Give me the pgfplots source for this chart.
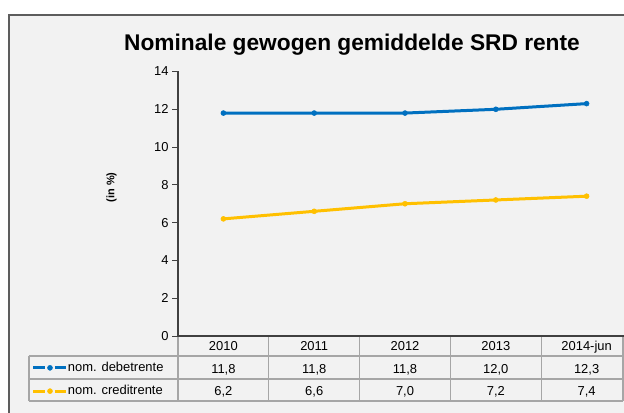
\documentclass[border=0pt]{standalone}
\usepackage{pgfplots}
\usepackage{pgfplotstable}
\pgfplotsset{compat=1.18}
\usepackage{fontspec}
\setmainfont{Liberation Sans}
\definecolor{serblue}{HTML}{0070C0}
\definecolor{seryel}{HTML}{FFC000}
\definecolor{bggray}{HTML}{F2F2F2}
\definecolor{axgray}{HTML}{404040}
\definecolor{tabgray}{HTML}{A6A6A6}
\pgfdeclarelayer{bg}
\pgfsetlayers{bg,main}
\pgfplotstableread{
x year debet credit
0 2010 11.8 6.2
1 2011 11.8 6.6
2 2012 11.8 7.0
3 2013 12.0 7.2
4 2014-jun 12.3 7.4
}\rentedata
\begin{document}
\begin{tikzpicture}
\begin{axis}[
  name=ax,
  scale only axis, width=454bp, height=264.5bp,
  xmin=-0.5, xmax=4.5, ymin=0, ymax=14,
  ytick={0,2,...,14}, xtick=\empty,
  axis x line=bottom, axis y line=left,
  axis line style={-, axgray, line width=1.5bp},
  y tick style={axgray, line width=1bp},
  tick align=outside, major tick length=6bp,
  yticklabel style={font=\fontsize{13}{13}\selectfont, text=black},
  /pgf/number format/assume math mode=true,
  clip=false,
  legend style={draw=none, fill=none, at={(axis description cs:-0.3216,-0.0986)}, anchor=north west,
    inner sep=0pt, outer sep=0pt, row sep=11.8bp,
    font=\fontsize{13}{13}\selectfont,
    nodes={inner sep=0pt, text height=9bp, text depth=2.5bp},
    /tikz/every even column/.append style={column sep=3bp}},
  legend cell align=left,
  legend image code/.code={\draw[#1] (0bp,0bp) -- (11.5bp,0bp) (21.5bp,0bp) -- (33bp,0bp); \path[#1] plot[only marks] coordinates {(16.5bp,0bp)};},
]
\addplot[serblue, line width=3bp, mark=*, mark size=2.5bp, mark options={solid, line width=0.5bp}] table[x=x,y=debet]{\rentedata};
\addlegendentry{nom. debetrente}
\addplot[seryel, line width=3bp, mark=*, mark size=2.5bp, mark options={solid, line width=0.5bp}] table[x=x,y=credit]{\rentedata};
\addlegendentry{nom. creditrente}
\tikzset{tabtxt/.style={font=\fontsize{13}{13}\selectfont, anchor=base, inner sep=0pt}}
\node[tabtxt] at (axis cs:0,0) [yshift=-14bp] {2010};
\node[tabtxt] at (axis cs:1,0) [yshift=-14bp] {2011};
\node[tabtxt] at (axis cs:2,0) [yshift=-14bp] {2012};
\node[tabtxt] at (axis cs:3,0) [yshift=-14bp] {2013};
\node[tabtxt] at (axis cs:4,0) [yshift=-14bp] {2014-jun};
\node[tabtxt] at (axis cs:0,0) [yshift=-37bp] {11,8};
\node[tabtxt] at (axis cs:1,0) [yshift=-37bp] {11,8};
\node[tabtxt] at (axis cs:2,0) [yshift=-37bp] {11,8};
\node[tabtxt] at (axis cs:3,0) [yshift=-37bp] {12,0};
\node[tabtxt] at (axis cs:4,0) [yshift=-37bp] {12,3};
\node[tabtxt] at (axis cs:0,0) [yshift=-59bp] {6,2};
\node[tabtxt] at (axis cs:1,0) [yshift=-59bp] {6,6};
\node[tabtxt] at (axis cs:2,0) [yshift=-59bp] {7,0};
\node[tabtxt] at (axis cs:3,0) [yshift=-59bp] {7,2};
\node[tabtxt] at (axis cs:4,0) [yshift=-59bp] {7,4};
\end{axis}
\begin{scope}[shift={(ax.south west)}, shift={(-178bp,-76bp)}, x=1bp, y=1bp]
\begin{pgfonlayer}{bg}
\begin{scope}
\clip (0,0) rectangle (624,412);
\fill[bggray] (9,-20) rectangle (650,397);
\draw[line width=1.6bp, color=axgray!85] (9,-20) -- (9,397) -- (650,397);
\draw[tabgray, line width=1.2bp] (29,56) -- (623,56) (29,33) -- (623,33) (29,11) -- (623,11) (29,56) -- (29,11) (623,76) -- (623,11);
\foreach \xx in {268.8,359.6,450.4,541.2} \draw[tabgray, line width=1.2bp] (\xx,76) -- (\xx,11);
\draw[tabgray, line width=1.2bp] (178,76)--(178,11);
\end{scope}
\end{pgfonlayer}
\node[font=\bfseries\fontsize{22.8}{26}\selectfont, anchor=base] at (352,362) {Nominale gewogen gemiddelde SRD rente};
\node[rotate=90, font=\bfseries\fontsize{11}{11}\selectfont] at (111.5,224.5) {(in \%)};
\pgfresetboundingbox
\path[use as bounding box] (0,0) rectangle (624,412);
\end{scope}
\end{tikzpicture}
\end{document}
